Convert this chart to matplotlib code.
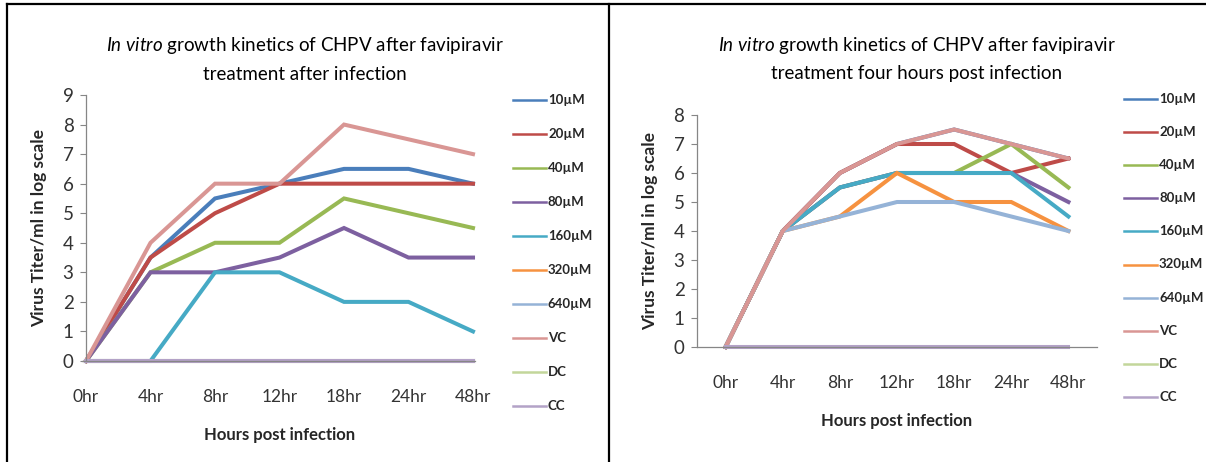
import matplotlib
matplotlib.use("Agg")
import matplotlib.pyplot as plt
from matplotlib.lines import Line2D

plt.rcParams['font.family'] = ['Lato', 'DejaVu Sans']
plt.rcParams['mathtext.fontset'] = 'custom'
plt.rcParams['mathtext.rm'] = 'Lato'
plt.rcParams['mathtext.it'] = 'Lato:italic'

hours = ["0hr", "4hr", "8hr", "12hr", "18hr", "24hr", "48hr"]
series_names = ["10µM", "20µM", "40µM", "80µM", "160µM", "320µM", "640µM", "VC", "DC", "CC"]
series_colors = ["#4A7EBB", "#BE4B48", "#98B954", "#7D60A0", "#46AAC5",
                 "#F69240", "#95B3D7", "#D99694", "#C3D69B", "#B3A2C7"]

# Treatment immediately after infection (log10 titer)
after_10 = [0, 3.5, 5.5, 6, 6.5, 6.5, 6]
after_20 = [0, 3.5, 5, 6, 6, 6, 6]
after_40 = [0, 3, 4, 4, 5.5, 5, 4.5]
after_80 = [0, 3, 3, 3.5, 4.5, 3.5, 3.5]
after_160 = [0, 0, 3, 3, 2, 2, 1]
after_320 = [0, 0, 0, 0, 0, 0, 0]
after_640 = [0, 0, 0, 0, 0, 0, 0]
after_vc = [0, 4, 6, 6, 8, 7.5, 7]
after_dc = [0, 0, 0, 0, 0, 0, 0]
after_cc = [0, 0, 0, 0, 0, 0, 0]

# Treatment four hours post infection (log10 titer)
post4_10 = [0, 4, 6, 7, 7.5, 7, 6.5]
post4_20 = [0, 4, 6, 7, 7, 6, 6.5]
post4_40 = [0, 4, 5.5, 6, 6, 7, 5.5]
post4_80 = [0, 4, 5.5, 6, 6, 6, 5]
post4_160 = [0, 4, 5.5, 6, 6, 6, 4.5]
post4_320 = [0, 4, 4.5, 6, 5, 5, 4]
post4_640 = [0, 4, 4.5, 5, 5, 4.5, 4]
post4_vc = [0, 4, 6, 7, 7.5, 7, 6.5]
post4_dc = [0, 0, 0, 0, 0, 0, 0]
post4_cc = [0, 0, 0, 0, 0, 0, 0]

after_data = [after_10, after_20, after_40, after_80, after_160,
              after_320, after_640, after_vc, after_dc, after_cc]
post4_data = [post4_10, post4_20, post4_40, post4_80, post4_160,
              post4_320, post4_640, post4_vc, post4_dc, post4_cc]

W, H = 1206, 462
fig = plt.figure(figsize=(W / 100, H / 100), dpi=100)
fig.patch.set_facecolor("white")


def px_axes(x0, x1, ytop, ybot):
    return fig.add_axes([x0 / W, 1 - ybot / H, (x1 - x0) / W, (ybot - ytop) / H])


AXIS_GRAY = "#868686"
TEXT = "#262626"


def style_axes(ax, ymax):
    for side in ("top", "right"):
        ax.spines[side].set_visible(False)
    for side in ("left", "bottom"):
        ax.spines[side].set_color(AXIS_GRAY)
        ax.spines[side].set_linewidth(0.9)
    ax.set_ylim(0, ymax)
    ax.set_yticks(range(0, ymax + 1))
    ax.tick_params(axis="y", direction="out", length=4, color=AXIS_GRAY,
                   labelsize=13.5, labelcolor="#333333", pad=5)
    ax.tick_params(axis="x", length=0, labelsize=12.5, labelcolor="#333333", pad=20)
    ax.set_xticks(range(len(hours)))
    ax.set_xticklabels(hours)
    ax.patch.set_alpha(0)


def draw_panel(ax, data, legend_x, legend_y0, legend_dy):
    for vals, col in zip(data, series_colors):
        ax.plot(range(len(hours)), vals, color=col, lw=2.9,
                solid_joinstyle="miter", clip_on=False)
    # legend entries
    for i, (name, col) in enumerate(zip(series_names, series_colors)):
        y = legend_y0 + i * legend_dy
        fig.add_artist(Line2D([legend_x / W, (legend_x + 33) / W],
                              [1 - y / H, 1 - y / H], color=col, lw=1.8))
        fig.text((legend_x + 35) / W, 1 - y / H, name, fontsize=9.5,
                 fontweight="bold", color=TEXT, va="center", ha="left")


# Left panel
ax1 = px_axes(86, 473, 95, 361)
style_axes(ax1, 9)
ax1.set_xlim(0, 6)
ax1.spines["bottom"].set_bounds(-0.06, 6.03)
draw_panel(ax1, after_data, 513, 100, 34.0)
ax1.set_ylabel("Virus Titer/ml in log scale", fontsize=12.5, fontweight="bold",
               color=TEXT, labelpad=11)
ax1.set_xlabel("Hours post infection", fontsize=12, fontweight="bold",
               color=TEXT, labelpad=16)

# Right panel
ax2 = px_axes(697, 1097, 115, 347)
style_axes(ax2, 8)
ax2.set_xlim(-0.5, 6.5)
draw_panel(ax2, post4_data, 1124, 99, 33.1)
ax2.set_ylabel("Virus Titer/ml in log scale", fontsize=12.5, fontweight="bold",
               color=TEXT, labelpad=11)
ax2.set_xlabel("Hours post infection", fontsize=12, fontweight="bold",
               color=TEXT, labelpad=16)

# Titles
for cx, second in ((305, "treatment after infection"), (917, "treatment four hours post infection")):
    fig.text(cx / W, 1 - 45 / H,
             r"$\it{In\ vitro}$" + " growth kinetics of CHPV after favipiravir",
             fontsize=13.5, color="black", ha="center", va="center")
    fig.text(cx / W, 1 - 74 / H, second, fontsize=13.5, color="black",
             ha="center", va="center")

# Outer frame lines
fig.add_artist(Line2D([7 / W, 1], [1 - 4 / H, 1 - 4 / H], color="black", lw=1.6))
fig.add_artist(Line2D([7 / W, 7 / W], [0, 1 - 4 / H], color="black", lw=1.6))
fig.add_artist(Line2D([609 / W, 609 / W], [0, 1 - 4 / H], color="black", lw=1.6))

fig.savefig("out.png", dpi=100, facecolor="white")
